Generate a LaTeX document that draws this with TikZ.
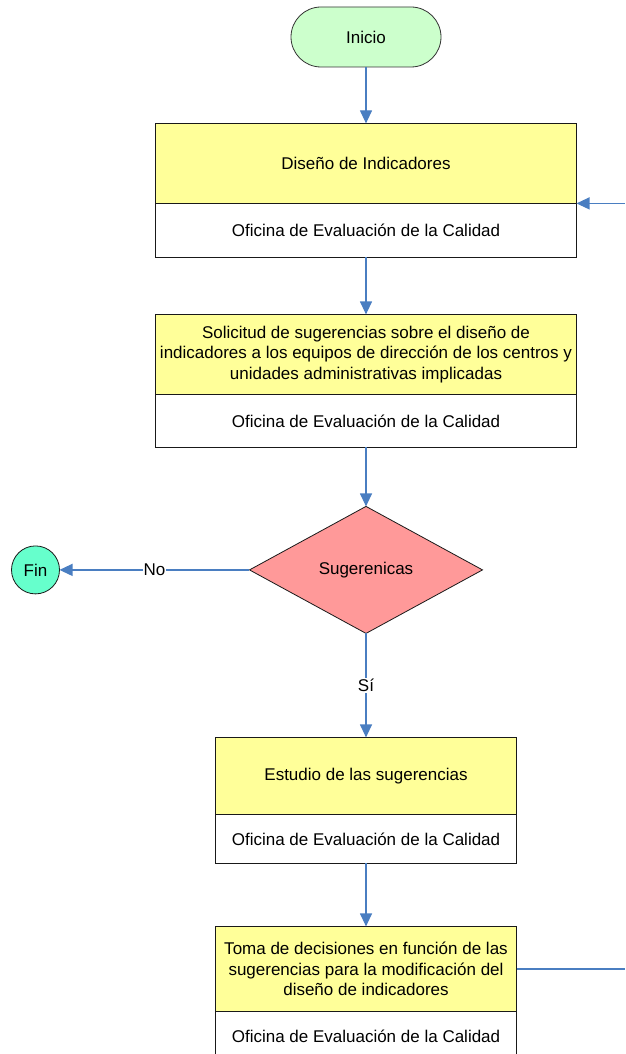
\documentclass[tikz,border=0pt]{standalone}
\usepackage{fontspec}
\setmainfont{Liberation Sans}
\usepackage{tikz}
\definecolor{azulflecha}{RGB}{74,126,193}
\definecolor{amarillo}{RGB}{255,255,153}
\definecolor{verdeinicio}{RGB}{204,255,204}
\definecolor{rosadecision}{RGB}{255,153,153}
\definecolor{verdefin}{RGB}{102,255,204}
\usetikzlibrary{positioning, shapes.geometric, arrows.meta}
\tikzstyle{terminal}=[rectangle, rounded corners=30pt, draw=black!80, line width=0.8pt, fill=verdeinicio, minimum width=150pt, minimum height=60pt]
\tikzstyle{tarea}=[rectangle, draw=black!90, line width=0.8pt, fill=amarillo, minimum width=421pt, minimum height=80pt, inner sep=0pt, outer sep=0pt, align=center]
\tikzstyle{responsable}=[rectangle, draw=black!90, line width=0.8pt, fill=white, minimum width=421pt, minimum height=54pt, inner sep=0pt, outer sep=0pt]
\tikzstyle{decision}=[diamond, draw=black!90, line width=0.8pt, fill=rosadecision, minimum width=233pt, minimum height=127pt, inner sep=0pt, outer sep=0pt]
\tikzstyle{final}=[circle, draw=black!90, line width=0.8pt, fill=verdefin, minimum size=48pt, inner sep=0pt, outer sep=0pt]
\tikzstyle{flecha}=[azulflecha, line width=1.2pt, -{Triangle[length=13pt, width=12pt]}]
\tikzstyle{linea}=[azulflecha, line width=1.2pt]
\tikzstyle{etiqueta}=[fill=white, inner sep=1pt, text=black]

\begin{document}
\begin{tikzpicture}[font=\fontsize{17}{20.5}\selectfont]
    \clip (0pt,0pt) rectangle (625pt,-1054pt);
    	% Nodes
    	\node[terminal] (inicio) at (366pt,-37pt) {Inicio};
		\node[tarea, below=56pt of inicio] (disenio) {Diseño de Indicadores};
		\node[responsable, below=0pt of disenio] (disenioOf) {Oficina de Evaluación de la Calidad};
		\node[tarea, below=57pt of disenioOf] (solicitud) {
			Solicitud de sugerencias sobre el diseño de\\
			indicadores a los equipos de dirección de los centros y\\
			unidades administrativas implicadas
		};
		\node[responsable, below=0pt of solicitud, minimum height=53pt] (solicitudOf) {Oficina de Evaluación de la Calidad};
		\node[decision, below=59pt of solicitudOf] (sugerencias) {Sugerenicas};
		\node[final, left=190pt of sugerencias] (fin) {Fin};
		\node[tarea, below=104pt of sugerencias, minimum width=301pt, minimum height=77pt] (estudio) {Estudio de las sugerencias};
		\node[responsable, below=0pt of estudio, minimum width=301pt, minimum height=49pt] (estudioOf) {Oficina de Evaluación de la Calidad};
		\node[tarea, below=63pt of estudioOf, minimum width=301pt, minimum height=85pt] (toma) {
			Toma de decisiones en función de las\\
			sugerencias para la modificación del\\
			diseño de indicadores
		};
		\node[responsable, below=0pt of toma, minimum width=301pt, minimum height=50pt] (tomaOf) {Oficina de Evaluación de la Calidad};
		\coordinate[right=48pt of disenio.south east] (retorno);
		\coordinate[right=108pt of toma.east] (salida);

    	% Arrows
		\draw[flecha] (inicio) -- (disenio);
		\draw[flecha] (retorno) -- (disenio.south east);
		\draw[flecha] (disenioOf) -- (solicitud);
		\draw[flecha] (solicitudOf) -- (sugerencias);
		\draw[flecha] (sugerencias) -- node[etiqueta] {No} (fin);
		\draw[flecha] (sugerencias) -- node[etiqueta] {Sí} (estudio);
		\draw[flecha] (estudioOf) -- (toma);
		\draw[linea] (toma) -- (salida);
    \end{tikzpicture}
\end{document}
